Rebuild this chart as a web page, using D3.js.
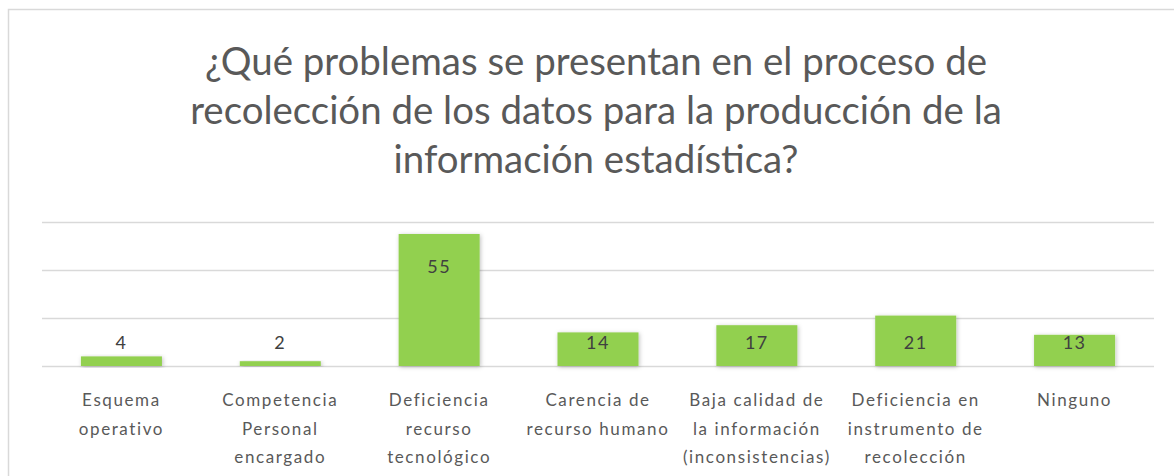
<!DOCTYPE html>
<html>
<head>
<meta charset="utf-8">
<script src="https://cdn.jsdelivr.net/npm/d3@7"></script>
<style>
  body { margin: 0; background: #fff; }
  svg { display: block; }
</style>
</head>
<body>
<div id="chart"></div>
<script>
// Chart data
const titleLines = [
  '¿Qué problemas se presentan en el proceso de',
  'recolección de los datos para la producción de la',
  'información estadística?'
];
const categories = [
  'Esquema\noperativo',
  'Competencia\nPersonal\nencargado',
  'Deficiencia\nrecurso\ntecnológico',
  'Carencia de\nrecurso humano',
  'Baja calidad de\nla información\n(inconsistencias)',
  'Deficiencia en\ninstrumento de\nrecolección',
  'Ninguno'
];
const values = [4, 2, 55, 14, 17, 21, 13];
const gridTicks = [0, 20, 40, 60];

const width = 1174;
const height = 476;
const margin = { left: 42, right: 20 };
const font = 'Lato, "Open Sans", sans-serif';

const svg = d3.select('#chart')
  .append('svg')
  .attr('width', width)
  .attr('height', height);

// soft shadow under the bars
const defs = svg.append('defs');
const shadow = defs.append('filter').attr('id', 'shadow')
  .attr('x', '-20%').attr('y', '-20%').attr('width', '140%').attr('height', '140%');
shadow.append('feDropShadow')
  .attr('dx', 1).attr('dy', 1).attr('stdDeviation', 2)
  .attr('flood-color', '#000').attr('flood-opacity', 0.25);

// chart border
svg.append('rect')
  .attr('x', 8.5).attr('y', 9.5)
  .attr('width', width + 20).attr('height', height + 20)
  .attr('fill', 'none')
  .attr('stroke', '#d9d9d9')
  .attr('stroke-width', 1.5);

// title
const title = svg.append('text')
  .attr('text-anchor', 'middle')
  .attr('fill', '#595959')
  .style('font-family', font)
  .style('font-size', '32px');

title.selectAll('tspan')
  .data(titleLines)
  .enter()
  .append('tspan')
  .attr('x', 596)
  .attr('y', (d, i) => 75 + i * 49)
  .text(d => d);

// scale the title so the longest line is about as wide as in the original
const longest = title.selectAll('tspan').nodes()[1].getComputedTextLength();
title.style('font-size', (32 * 812 / longest) + 'px');

const x = d3.scaleBand()
  .domain(categories)
  .range([margin.left, width - margin.right])
  .paddingInner(0.49)
  .paddingOuter(0.245);

const y = d3.scaleLinear()
  .domain([0, 60])
  .range([366, 222]);

// gridlines
svg.append('g')
  .selectAll('line')
  .data(gridTicks)
  .enter()
  .append('line')
  .attr('x1', margin.left)
  .attr('x2', width - margin.right)
  .attr('y1', d => Math.round(y(d)) + 0.5)
  .attr('y2', d => Math.round(y(d)) + 0.5)
  .attr('stroke', '#d9d9d9')
  .attr('stroke-width', 1.5);

// bars
svg.append('g')
  .selectAll('rect')
  .data(values)
  .enter()
  .append('rect')
  .attr('x', (d, i) => x(categories[i]))
  .attr('y', d => y(d))
  .attr('width', x.bandwidth())
  .attr('height', d => y(0) - y(d))
  .attr('fill', '#92d050')
  .attr('filter', 'url(#shadow)');

// value labels
svg.append('g')
  .selectAll('text')
  .data(values)
  .enter()
  .append('text')
  .attr('x', (d, i) => x(categories[i]) + x.bandwidth() / 2)
  .attr('y', d => Math.min(y(d) + 39, y(0) - 17))
  .attr('text-anchor', 'middle')
  .attr('fill', '#404040')
  .style('font-family', font)
  .style('font-size', '18px')
  .style('letter-spacing', '1.5px')
  .text(d => d);

// category labels
const labels = svg.append('g')
  .selectAll('text')
  .data(categories)
  .enter()
  .append('text')
  .attr('text-anchor', 'middle')
  .attr('fill', '#595959')
  .style('font-family', font)
  .style('font-size', '17px')
  .style('letter-spacing', '1.6px');

labels.selectAll('tspan')
  .data(d => d.split('\n').map(line => ({ line, cat: d })))
  .enter()
  .append('tspan')
  .attr('x', d => x(d.cat) + x.bandwidth() / 2)
  .attr('y', (d, i) => 406 + i * 28.5)
  .text(d => d.line);
</script>
</body>
</html>
